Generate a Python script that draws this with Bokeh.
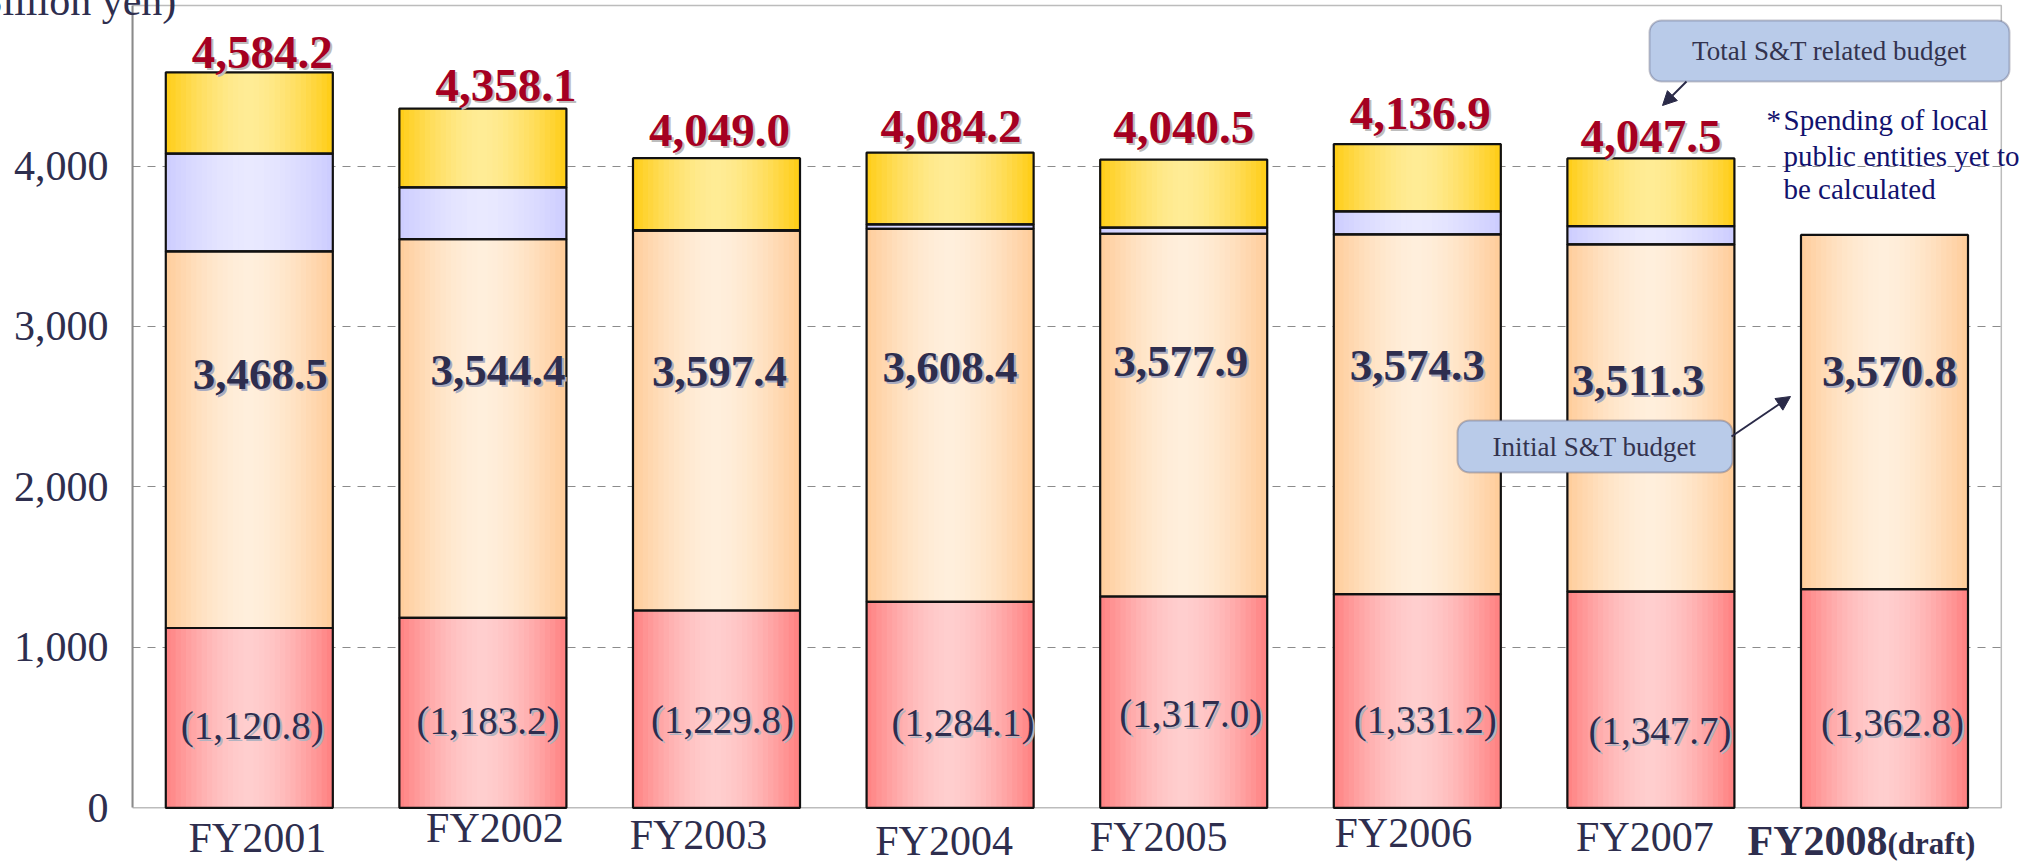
from bokeh.plotting import figure
from bokeh.models import (Range1d, FixedTicker, NumeralTickFormatter, Label, Title,
                          BoxAnnotation, Arrow, NormalHead, ColumnDataSource)
from bokeh.embed import file_html
from bokeh.resources import INLINE

# ---------------- data (billion yen) ----------------
years = ["FY2001", "FY2002", "FY2003", "FY2004", "FY2005", "FY2006", "FY2007", "FY2008"]
central_part = [1120.8, 1183.2, 1229.8, 1284.1, 1317.0, 1331.2, 1347.7, 1362.8]
initial_budget = [3468.5, 3544.4, 3597.4, 3608.4, 3577.9, 3574.3, 3511.3, 3570.8]
supplementary = [608.5, 322.6, 3.0, 28.6, 38.1, 143.7, 114.7, 0.0]
total_budget = [4584.2, 4358.1, 4049.0, 4084.2, 4040.5, 4136.9, 4047.5, None]
y_ticks = [0, 1000, 2000, 3000, 4000]
unit_text = "(Billion yen)"

# ---------------- styles ----------------
FONT = "Liberation Serif"
NAVY = "#2e2e4e"
RED = "#a50021"
BAR_W = 0.715
N_STRIPS = 32
SEG_COLORS = [  # (edge, centre) of each horizontal gradient
    ((255, 128, 128), (255, 206, 206)),
    ((255, 204, 153), (255, 239, 220)),
    ((204, 204, 255), (233, 233, 255)),
    ((255, 204, 20), (255, 236, 150)),
]
# label nudges in screen pixels (x: right, y: down)
tot_dx = [13, 23, 3, 1, 0, 3, 0]
tot_up = [20, 23, 28, 26, 32, 31, 22]
ini_dx = [11, 15, 3, 0, -3, 0, -13, 5]
ini_dy = [0, -4, -3, -7, -13, -9, 6, -3]
red_dx = [3, 5, 6, 13, 7, 8, 9, 8]
red_dy = [0, -5, -6, -3, -12, -6, 5, -3]
xl_dx = [8, 12, -18, -6, -25, -14, -6]
xl_dy = [0, -10, -3, 3, -1, -5, -1]

W, H = 2023, 862
ML = 132                 # left panel (y axis)
PXX = 233.6              # pixels per category
PXY = 0.16044            # pixels per billion yen
ZERO_PX = 807.3          # page row of the value 0
DX, DY = 1.0 / PXX, 1.0 / PXY
X_END = -0.5 + (W - ML) / PXX
Y_END = ZERO_PX / PXY
Y_START = -(H - ZERO_PX) / PXY


def sx(page_x):   # page pixel -> data x
    return (page_x - ML) / PXX - 0.5


def sy(page_y):   # page pixel -> data y
    return (ZERO_PX - page_y) / PXY


TOP = sy(5)

p = figure(width=W, height=H, x_range=Range1d(-0.5, X_END), y_range=Range1d(Y_START, Y_END),
           output_backend="svg", toolbar_location=None, title=None, x_axis_location=None,
           min_border_left=ML, min_border_right=0, min_border_top=0, min_border_bottom=0)
p.background_fill_color = "white"
p.border_fill_color = "white"
p.outline_line_color = None

# unit text, cut off by the top edge as in the original (takes no room)
p.add_layout(Title(text=unit_text, align="left", vertical_align="middle", offset=-172,
                   standoff=-80, text_font=FONT, text_font_size="42px",
                   text_font_style="normal", text_color=NAVY), "above")

p.yaxis.ticker = FixedTicker(ticks=y_ticks)
p.yaxis.bounds = (0, TOP)
p.yaxis.formatter = NumeralTickFormatter(format="0,0")
p.yaxis.major_label_text_font = FONT
p.yaxis.major_label_text_font_size = "42px"
p.yaxis.major_label_text_color = NAVY
p.yaxis.major_tick_out = 0
p.yaxis.major_tick_in = 0
p.yaxis.major_tick_line_color = None
p.yaxis.minor_tick_line_color = None
p.yaxis.major_label_standoff = 24
p.yaxis.axis_line_color = "#8a8a8a"
p.yaxis.axis_line_width = 2

p.xgrid.visible = False
p.ygrid.ticker = FixedTicker(ticks=y_ticks[1:])
p.ygrid.grid_line_color = "#8c8c8c"
p.ygrid.grid_line_dash = "8 7"
p.ygrid.grid_line_width = 1.2

# keep the grid inside the chart frame, then draw the frame
p.add_layout(BoxAnnotation(left=7.5, right=X_END, bottom=Y_START, top=Y_END,
                           fill_color="white", fill_alpha=1.0, line_color=None,
                           level="underlay"))
p.add_layout(BoxAnnotation(left=-0.5, right=7.5, bottom=0, top=TOP, fill_color=None,
                           fill_alpha=0, line_color="#222222", line_width=1.5,
                           level="underlay"))

# ---------------- stacked segments ----------------
segments = []
for i in range(len(years)):
    lv1 = central_part[i]
    lv2 = initial_budget[i]
    lv3 = initial_budget[i] + supplementary[i]
    lv4 = total_budget[i] if total_budget[i] is not None else lv3
    for s, (b, t) in enumerate([(0.0, lv1), (lv1, lv2), (lv2, lv3), (lv3, lv4)]):
        if t > b:
            segments.append((i, s, b, t))

sx_l, sw_l, sb_l, st_l, sc_l = [], [], [], [], []
for (i, s, b, t) in segments:
    edge, cen = SEG_COLORS[s]
    for k in range(N_STRIPS):
        fr = (k + 0.5) / N_STRIPS
        f = 1 - abs(2 * fr - 1) ** 1.6
        c = tuple(int(round(e + (cc - e) * f)) for e, cc in zip(edge, cen))
        sx_l.append(i - BAR_W / 2 + fr * BAR_W)
        sw_l.append(BAR_W / N_STRIPS * 1.25)
        sb_l.append(b)
        st_l.append(t)
        sc_l.append("#%02x%02x%02x" % c)
strips = ColumnDataSource(dict(x=sx_l, w=sw_l, b=sb_l, t=st_l, c=sc_l))
p.vbar(x="x", width="w", bottom="b", top="t", fill_color="c", line_color=None, source=strips)

outl = ColumnDataSource(dict(x=[g[0] for g in segments], b=[g[2] for g in segments],
                             t=[g[3] for g in segments]))
p.vbar(x="x", width=BAR_W, bottom="b", top="t", fill_color=None,
       line_color="#111111", line_width=2.2, source=outl)


def add_label(x, y, text, size, color, bold=False, shadow=None, align="center",
              baseline="middle"):
    style = "bold" if bold else "normal"
    if shadow:
        p.add_layout(Label(x=x + 2 * DX, y=y - 2 * DY, text=text, text_font=FONT,
                           text_font_size=size, text_font_style=style, text_color=shadow,
                           text_align=align, text_baseline=baseline))
    p.add_layout(Label(x=x, y=y, text=text, text_font=FONT, text_font_size=size,
                       text_font_style=style, text_color=color, text_align=align,
                       text_baseline=baseline))


INI_LEVEL = 2700
RED_LEVEL = 515
XL_LEVEL = sy(837)

for i in range(len(years)):
    if total_budget[i] is not None:
        add_label(i + tot_dx[i] * DX, total_budget[i] + tot_up[i] * DY,
                  f"{total_budget[i]:,.1f}", "47px", RED, bold=True, shadow="#bdbdbd")
    add_label(i + ini_dx[i] * DX, INI_LEVEL - ini_dy[i] * DY, f"{initial_budget[i]:,.1f}",
              "45px", NAVY, bold=True, shadow="#a9abc0")
    add_label(i + red_dx[i] * DX, RED_LEVEL - red_dy[i] * DY, f"({central_part[i]:,.1f})",
              "39px", NAVY, shadow="#b3b3c0")
    if i < 7:
        add_label(i + xl_dx[i] * DX, XL_LEVEL - xl_dy[i] * DY, years[i], "42px", NAVY)

# FY2008 (draft) label
add_label(7 - 137 * DX, sy(840), years[7], "42px", NAVY, bold=True, align="left")
add_label(7 + 3 * DX, sy(843), "(draft)", "31px", NAVY, bold=True, align="left")

# note
NOTE = "#12126e"
add_label(sx(1766), sy(119), "*", "29px", NOTE, align="left")
for txt, yy in [("Spending of local", 119), ("public entities yet to", 155),
                ("be calculated", 188)]:
    add_label(sx(1783), sy(yy), txt, "29px", NOTE, align="left")

# call-outs
BOX_FILL = "#b9cbe9"
BOX_LINE = "#3a3a58"
ARROW = "#2a2a48"
p.add_layout(BoxAnnotation(left=sx(1649), right=sx(2009), top=sy(20), bottom=sy(81),
                           fill_color=BOX_FILL, fill_alpha=1.0, line_color=BOX_LINE,
                           line_width=2, border_radius=12))
add_label(sx(1829), sy(50), "Total S&T related budget", "27px", "#33334f")
p.add_layout(Arrow(end=NormalHead(size=14, fill_color=ARROW, line_color=ARROW),
                   x_start=sx(1686), y_start=sy(81), x_end=sx(1662), y_end=sy(105),
                   line_color=ARROW, line_width=2))

p.add_layout(BoxAnnotation(left=sx(1457), right=sx(1732), top=sy(420), bottom=sy(472),
                           fill_color=BOX_FILL, fill_alpha=1.0, line_color=BOX_LINE,
                           line_width=2, border_radius=12))
add_label(sx(1594), sy(446), "Initial S&T budget", "27px", "#33334f")
p.add_layout(Arrow(end=NormalHead(size=14, fill_color=ARROW, line_color=ARROW),
                   x_start=sx(1731), y_start=sy(436), x_end=sx(1790), y_end=sy(396),
                   line_color=ARROW, line_width=2))

open("out.html", "w").write(file_html(p, INLINE))
